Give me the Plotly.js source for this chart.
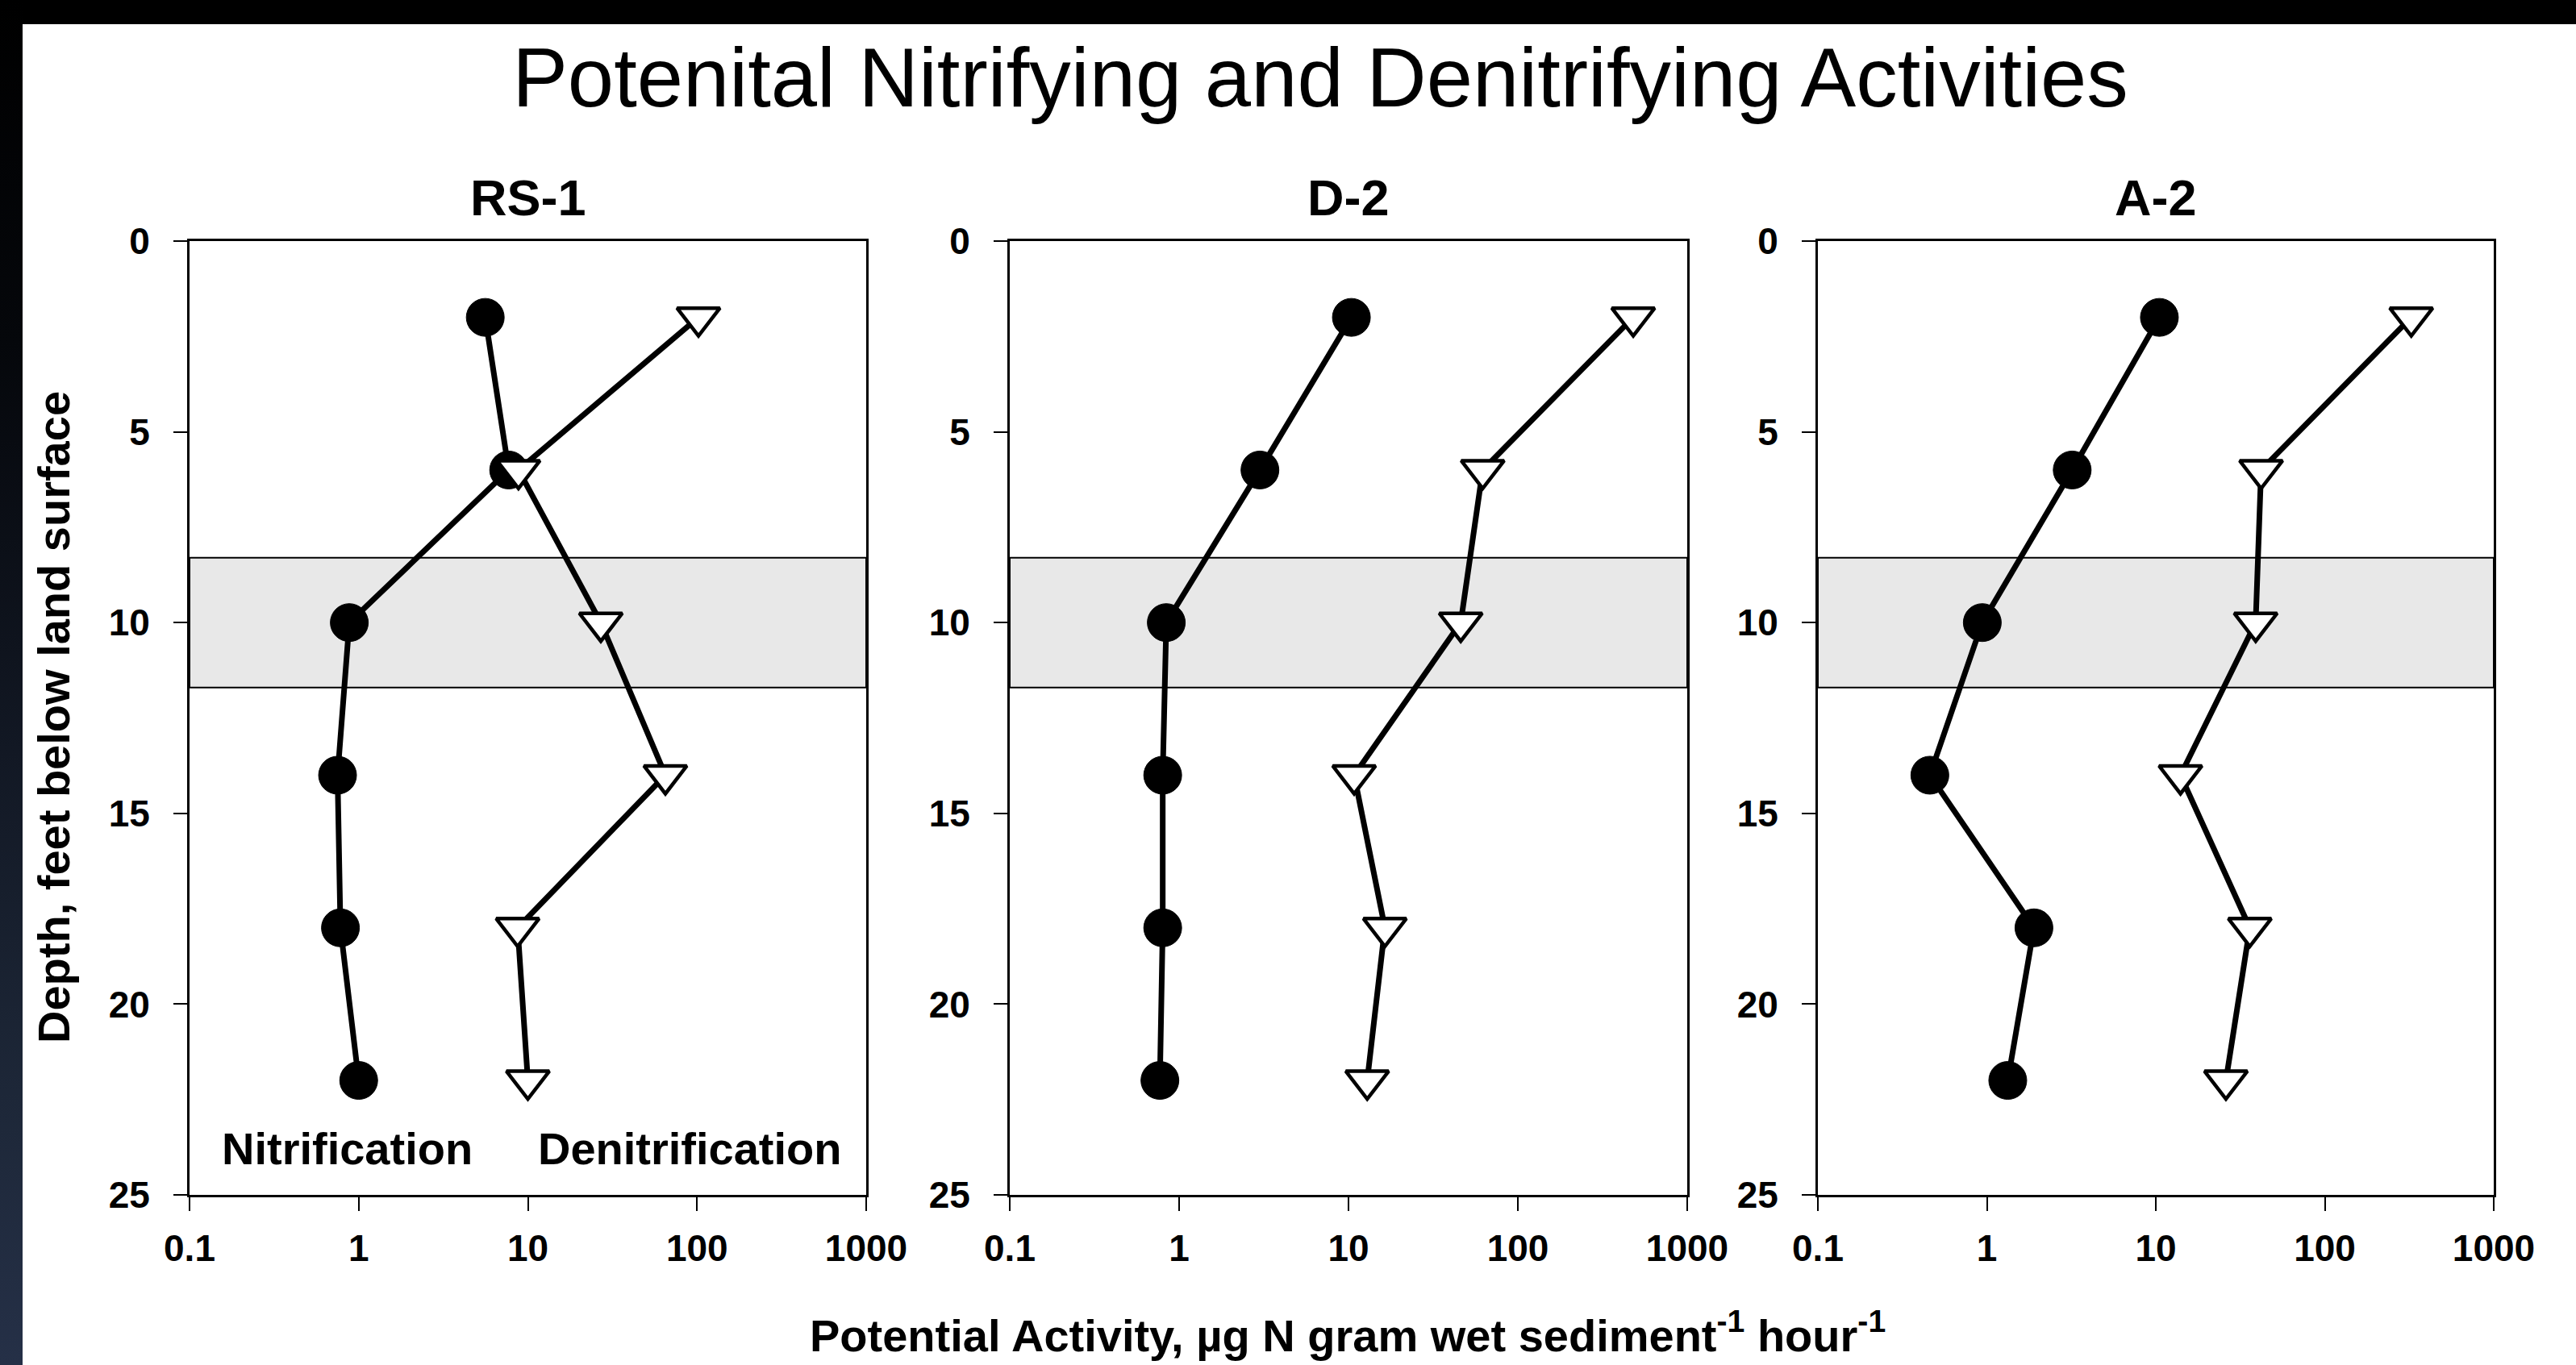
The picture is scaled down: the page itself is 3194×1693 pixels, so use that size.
<!DOCTYPE html>
<html>
<head>
<meta charset="utf-8">
<script src="https://cdn.plot.ly/plotly-3.0.1.min.js"></script>
<style>
  html, body { margin:0; padding:0; width:3194px; height:1693px; overflow:hidden; background:#ffffff; }
  #topband { position:absolute; left:0; top:0; width:3194px; height:30px; background:#000; }
  #leftband { position:absolute; left:0; top:0; width:28px; height:1693px;
    background:linear-gradient(to bottom, #000000 0%, #05070b 25%, #121824 55%, #1d2738 80%, #253047 100%); }
  #chart { position:absolute; left:0; top:0; width:3194px; height:1693px; }
</style>
</head>
<body>
<div id="topband"></div>
<div id="leftband"></div>
<div id="chart"></div>
<script>
// ---- data ----
const depths = [2, 6, 10, 14, 18, 22];
const sites = ["RS-1", "D-2", "A-2"];
const rs1Nitrification = [5.6, 7.7, 0.88, 0.75, 0.78, 1.0];
const rs1Denitrification = [102, 8.8, 27, 65, 8.7, 10];
const d2Nitrification = [10.4, 3.0, 0.84, 0.80, 0.80, 0.77];
const d2Denitrification = [480, 62, 46, 10.8, 16.4, 12.9];
const a2Nitrification = [10.5, 3.2, 0.94, 0.46, 1.9, 1.33];
const a2Denitrification = [325, 42, 39, 14, 36, 26];
const bandDepth = [8.3, 11.7];
const xTickVals = [0.1, 1, 10, 100, 1000];
const xTickText = ["0.1", "1", "10", "100", "1000"];
const yTickVals = [0, 5, 10, 15, 20, 25];

const FONT = "Liberation Sans, Arial, Helvetica, sans-serif";
const W = 3194, H = 1693;
const panelsPx = [[235, 1074], [1252, 2092], [2254, 3092]];
const yTopPx = 299, yBotPx = 1482;

const nit = [rs1Nitrification, d2Nitrification, a2Nitrification];
const den = [rs1Denitrification, d2Denitrification, a2Denitrification];

const traces = [];
const layout = {
  width: W, height: H,
  margin: {l:0, r:0, t:0, b:0},
  paper_bgcolor: "rgba(0,0,0,0)",
  plot_bgcolor: "#ffffff",
  showlegend: false,
  font: {family: FONT, color: "#000"},
  title: {
    text: "Potenital Nitrifying and Denitrifying Activities",
    font: {family: FONT, size: 103, color: "#000"},
    x: 1637 / W, xref: "paper", xanchor: "center",
    y: 1 - 96 / H, yref: "container", yanchor: "middle"
  },
  shapes: [],
  annotations: []
};

for (let i = 0; i < 3; i++) {
  const sx = i === 0 ? "" : String(i + 1);
  const xa = "x" + sx, ya = "y" + sx;
  traces.push({
    x: nit[i], y: depths, xaxis: xa, yaxis: ya,
    type: "scatter", mode: "lines+markers", name: "Nitrification",
    line: {color: "#000", width: 7},
    marker: {symbol: "circle", size: 47, color: "#000", line: {color: "#000", width: 1}}
  });
  traces.push({
    x: den[i], y: depths, xaxis: xa, yaxis: ya,
    type: "scatter", mode: "lines+markers", name: "Denitrification",
    line: {color: "#000", width: 7},
    marker: {symbol: "triangle-down", size: 46, color: "#fff", line: {color: "#000", width: 4.5}}
  });
  layout["xaxis" + sx] = {
    type: "log", range: [-1, 3],
    domain: [panelsPx[i][0] / W, panelsPx[i][1] / W],
    anchor: ya,
    tickvals: xTickVals, ticktext: xTickText,
    ticks: "outside", ticklen: 17, tickwidth: 2, tickcolor: "#000",
    showline: true, linecolor: "#000", linewidth: 3, mirror: true,
    showgrid: false, zeroline: false,
    tickfont: {family: FONT, size: 46, color: "#000", weight: "bold"},
    ticklabelstandoff: 7
  };
  layout["yaxis" + sx] = {
    range: [25, 0],
    domain: [1 - yBotPx / H, 1 - yTopPx / H],
    anchor: xa,
    tickvals: yTickVals,
    ticks: "outside", ticklen: 17, tickwidth: 2, tickcolor: "#000",
    showline: true, linecolor: "#000", linewidth: 3, mirror: true,
    showgrid: false, zeroline: false,
    tickfont: {family: FONT, size: 46, color: "#000", weight: "bold"},
    ticklabelstandoff: 20
  };
  layout.shapes.push({
    type: "rect", xref: xa + " domain", yref: ya,
    x0: 0, x1: 1, y0: bandDepth[0], y1: bandDepth[1],
    fillcolor: "#e8e8e8", line: {color: "#000", width: 2}, layer: "below"
  });
  layout.annotations.push({
    text: "<b>" + sites[i] + "</b>", xref: xa + " domain", x: 0.5, xanchor: "center",
    yref: "paper", y: 1 - 245 / H, yanchor: "middle", showarrow: false,
    font: {family: FONT, size: 63, color: "#000"}
  });
}

layout.annotations.push({
  text: "<b>Nitrification</b>", xref: "x domain", x: (430 - 235) / 839, xanchor: "center",
  yref: "paper", y: 1 - 1424 / H, yanchor: "middle", showarrow: false,
  font: {family: FONT, size: 56, color: "#000"}
});
layout.annotations.push({
  text: "<b>Denitrification</b>", xref: "x domain", x: (855 - 235) / 839, xanchor: "center",
  yref: "paper", y: 1 - 1424 / H, yanchor: "middle", showarrow: false,
  font: {family: FONT, size: 56, color: "#000"}
});
layout.annotations.push({
  text: "<b>Depth, feet below land surface</b>", textangle: -90,
  xref: "paper", x: 67 / W, xanchor: "center",
  yref: "paper", y: 1 - 890 / H, yanchor: "middle", showarrow: false,
  font: {family: FONT, size: 56, color: "#000"}
});
layout.annotations.push({
  text: "<b>Potential Activity, µg N gram wet sediment<sup>-1</sup> hour<sup>-1</sup></b>",
  xref: "paper", x: 1671 / W, xanchor: "center",
  yref: "paper", y: 1 - 1652 / H, yanchor: "middle", showarrow: false,
  font: {family: FONT, size: 56, color: "#000"}
});

Plotly.newPlot("chart", traces, layout, {staticPlot: true, displayModeBar: false});
</script>
</body>
</html>
